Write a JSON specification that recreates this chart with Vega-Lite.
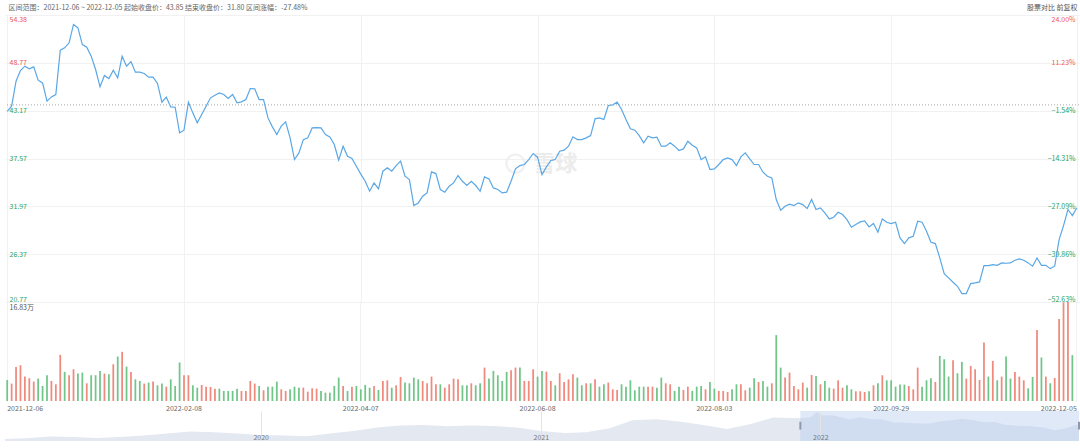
{
  "$schema": "https://vega.github.io/schema/vega-lite/v6.json",
  "description": "Stock close price with volume bars and a range navigator, 2021-12-06 to 2022-12-05",
  "background": "white",
  "padding": {"left": 4, "right": 2, "top": 3, "bottom": 0},
  "spacing": 0,
  "config": {
    "font": "Noto Sans CJK SC",
    "view": {"stroke": null},
    "axis": {"labelFontSize": 7, "titleFontSize": 7, "titleFontWeight": "normal"}
  },
  "resolve": {"scale": {"x": "independent"}},
  "datasets": {
    "p": [
      {"d":"2021-12-06","c":43.1,"v":3.58,"u":0},
      {"d":"2021-12-07","c":43.7,"v":2.96,"u":1},
      {"d":"2021-12-08","c":46.63,"v":5.8,"u":1},
      {"d":"2021-12-09","c":47.88,"v":6.08,"u":1},
      {"d":"2021-12-10","c":48.39,"v":4.15,"u":1},
      {"d":"2021-12-13","c":48.07,"v":3.87,"u":1},
      {"d":"2021-12-14","c":48.31,"v":3.3,"u":1},
      {"d":"2021-12-15","c":46.75,"v":3.81,"u":0},
      {"d":"2021-12-16","c":46.43,"v":2.56,"u":0},
      {"d":"2021-12-17","c":44.29,"v":4.38,"u":0},
      {"d":"2021-12-20","c":44.79,"v":3.41,"u":1},
      {"d":"2021-12-21","c":45.07,"v":2.84,"u":1},
      {"d":"2021-12-22","c":50.26,"v":7.84,"u":1},
      {"d":"2021-12-23","c":50.53,"v":4.95,"u":0},
      {"d":"2021-12-24","c":51.12,"v":4.38,"u":1},
      {"d":"2021-12-27","c":53.27,"v":5.4,"u":1},
      {"d":"2021-12-28","c":52.88,"v":4.66,"u":0},
      {"d":"2021-12-29","c":50.92,"v":4.83,"u":0},
      {"d":"2021-12-30","c":50.61,"v":3.01,"u":1},
      {"d":"2021-12-31","c":49.56,"v":4.38,"u":0},
      {"d":"2022-01-04","c":48.0,"v":4.38,"u":0},
      {"d":"2022-01-05","c":45.97,"v":5.12,"u":0},
      {"d":"2022-01-06","c":47.29,"v":4.66,"u":1},
      {"d":"2022-01-07","c":46.94,"v":4.55,"u":0},
      {"d":"2022-01-10","c":47.92,"v":6.25,"u":1},
      {"d":"2022-01-11","c":47.02,"v":7.56,"u":0},
      {"d":"2022-01-12","c":49.56,"v":8.36,"u":1},
      {"d":"2022-01-13","c":48.39,"v":5.85,"u":0},
      {"d":"2022-01-14","c":48.93,"v":4.95,"u":1},
      {"d":"2022-01-17","c":47.68,"v":3.69,"u":0},
      {"d":"2022-01-18","c":47.68,"v":3.41,"u":0},
      {"d":"2022-01-19","c":47.53,"v":2.96,"u":1},
      {"d":"2022-01-20","c":47.1,"v":3.13,"u":0},
      {"d":"2022-01-21","c":47.1,"v":3.3,"u":1},
      {"d":"2022-01-24","c":46.36,"v":2.67,"u":0},
      {"d":"2022-01-25","c":44.17,"v":2.96,"u":0},
      {"d":"2022-01-26","c":44.76,"v":2.44,"u":1},
      {"d":"2022-01-27","c":43.62,"v":3.69,"u":0},
      {"d":"2022-01-28","c":43.58,"v":2.56,"u":0},
      {"d":"2022-02-07","c":40.58,"v":6.54,"u":0},
      {"d":"2022-02-08","c":40.89,"v":4.38,"u":1},
      {"d":"2022-02-09","c":44.17,"v":4.38,"u":1},
      {"d":"2022-02-10","c":42.92,"v":2.67,"u":0},
      {"d":"2022-02-11","c":41.75,"v":2.27,"u":0},
      {"d":"2022-02-14","c":42.72,"v":2.73,"u":1},
      {"d":"2022-02-15","c":43.7,"v":2.44,"u":1},
      {"d":"2022-02-16","c":44.68,"v":2.39,"u":1},
      {"d":"2022-02-17","c":44.99,"v":2.1,"u":1},
      {"d":"2022-02-18","c":45.26,"v":2.1,"u":0},
      {"d":"2022-02-21","c":45.07,"v":1.71,"u":0},
      {"d":"2022-02-22","c":44.6,"v":1.71,"u":0},
      {"d":"2022-02-23","c":45.07,"v":1.71,"u":0},
      {"d":"2022-02-24","c":44.09,"v":2.1,"u":0},
      {"d":"2022-02-25","c":44.21,"v":1.71,"u":1},
      {"d":"2022-02-28","c":44.48,"v":1.71,"u":1},
      {"d":"2022-03-01","c":45.77,"v":3.41,"u":1},
      {"d":"2022-03-02","c":45.73,"v":2.96,"u":1},
      {"d":"2022-03-03","c":44.48,"v":2.56,"u":0},
      {"d":"2022-03-04","c":44.48,"v":1.82,"u":1},
      {"d":"2022-03-07","c":42.33,"v":2.44,"u":0},
      {"d":"2022-03-08","c":41.28,"v":2.44,"u":0},
      {"d":"2022-03-09","c":40.38,"v":3.3,"u":0},
      {"d":"2022-03-10","c":41.36,"v":1.99,"u":1},
      {"d":"2022-03-11","c":41.86,"v":1.71,"u":1},
      {"d":"2022-03-14","c":39.99,"v":1.99,"u":0},
      {"d":"2022-03-15","c":37.45,"v":2.44,"u":0},
      {"d":"2022-03-16","c":38.23,"v":2.27,"u":0},
      {"d":"2022-03-17","c":39.79,"v":2.27,"u":1},
      {"d":"2022-03-18","c":39.99,"v":1.59,"u":1},
      {"d":"2022-03-21","c":41.16,"v":2.16,"u":1},
      {"d":"2022-03-22","c":41.2,"v":2.1,"u":1},
      {"d":"2022-03-23","c":41.16,"v":1.71,"u":0},
      {"d":"2022-03-24","c":40.38,"v":1.42,"u":0},
      {"d":"2022-03-25","c":40.11,"v":1.42,"u":0},
      {"d":"2022-03-28","c":39.21,"v":2.56,"u":0},
      {"d":"2022-03-29","c":37.37,"v":3.98,"u":0},
      {"d":"2022-03-30","c":39.01,"v":2.56,"u":1},
      {"d":"2022-03-31","c":37.84,"v":1.71,"u":0},
      {"d":"2022-04-01","c":37.57,"v":2.44,"u":1},
      {"d":"2022-04-06","c":36.67,"v":2.56,"u":0},
      {"d":"2022-04-07","c":35.75,"v":1.99,"u":0},
      {"d":"2022-04-08","c":34.91,"v":2.73,"u":0},
      {"d":"2022-04-11","c":33.74,"v":2.27,"u":0},
      {"d":"2022-04-12","c":34.72,"v":2.56,"u":1},
      {"d":"2022-04-13","c":34.02,"v":1.88,"u":0},
      {"d":"2022-04-14","c":36.09,"v":3.41,"u":1},
      {"d":"2022-04-15","c":36.48,"v":3.52,"u":1},
      {"d":"2022-04-18","c":36.09,"v":2.27,"u":0},
      {"d":"2022-04-19","c":36.75,"v":2.67,"u":1},
      {"d":"2022-04-20","c":37.26,"v":4.09,"u":1},
      {"d":"2022-04-21","c":35.5,"v":3.13,"u":0},
      {"d":"2022-04-22","c":35.11,"v":3.01,"u":0},
      {"d":"2022-04-25","c":32.06,"v":3.98,"u":0},
      {"d":"2022-04-26","c":32.37,"v":3.69,"u":0},
      {"d":"2022-04-27","c":33.16,"v":3.41,"u":1},
      {"d":"2022-04-28","c":33.55,"v":3.01,"u":1},
      {"d":"2022-04-29","c":36.01,"v":4.15,"u":1},
      {"d":"2022-05-05","c":35.81,"v":2.84,"u":1},
      {"d":"2022-05-06","c":33.94,"v":2.84,"u":0},
      {"d":"2022-05-09","c":33.63,"v":2.27,"u":1},
      {"d":"2022-05-10","c":34.33,"v":2.84,"u":1},
      {"d":"2022-05-11","c":34.72,"v":3.81,"u":1},
      {"d":"2022-05-12","c":35.58,"v":3.69,"u":1},
      {"d":"2022-05-13","c":34.91,"v":2.67,"u":0},
      {"d":"2022-05-16","c":34.41,"v":2.67,"u":0},
      {"d":"2022-05-17","c":34.91,"v":3.01,"u":1},
      {"d":"2022-05-18","c":34.41,"v":2.67,"u":0},
      {"d":"2022-05-19","c":33.74,"v":3.01,"u":0},
      {"d":"2022-05-20","c":35.42,"v":5.68,"u":1},
      {"d":"2022-05-23","c":35.19,"v":3.81,"u":0},
      {"d":"2022-05-24","c":34.13,"v":5.12,"u":0},
      {"d":"2022-05-25","c":33.94,"v":4.38,"u":0},
      {"d":"2022-05-26","c":33.55,"v":3.41,"u":0},
      {"d":"2022-05-27","c":33.63,"v":4.95,"u":0},
      {"d":"2022-05-30","c":34.91,"v":5.23,"u":1},
      {"d":"2022-05-31","c":36.36,"v":5.68,"u":1},
      {"d":"2022-06-01","c":36.75,"v":5.68,"u":0},
      {"d":"2022-06-02","c":36.87,"v":3.41,"u":1},
      {"d":"2022-06-06","c":37.45,"v":3.41,"u":1},
      {"d":"2022-06-07","c":38.16,"v":5.4,"u":1},
      {"d":"2022-06-08","c":37.73,"v":4.15,"u":0},
      {"d":"2022-06-09","c":35.69,"v":5.12,"u":0},
      {"d":"2022-06-10","c":36.59,"v":5.0,"u":1},
      {"d":"2022-06-13","c":37.34,"v":3.41,"u":1},
      {"d":"2022-06-14","c":37.45,"v":2.67,"u":0},
      {"d":"2022-06-15","c":38.43,"v":4.72,"u":1},
      {"d":"2022-06-16","c":38.55,"v":3.24,"u":1},
      {"d":"2022-06-17","c":39.02,"v":3.69,"u":1},
      {"d":"2022-06-20","c":40.11,"v":4.55,"u":1},
      {"d":"2022-06-21","c":39.79,"v":3.98,"u":0},
      {"d":"2022-06-22","c":39.79,"v":2.67,"u":0},
      {"d":"2022-06-23","c":39.99,"v":3.01,"u":1},
      {"d":"2022-06-24","c":40.26,"v":3.01,"u":0},
      {"d":"2022-06-27","c":42.22,"v":3.69,"u":1},
      {"d":"2022-06-28","c":42.33,"v":2.44,"u":0},
      {"d":"2022-06-29","c":42.14,"v":2.84,"u":0},
      {"d":"2022-06-30","c":43.78,"v":3.13,"u":1},
      {"d":"2022-07-01","c":43.86,"v":1.99,"u":1},
      {"d":"2022-07-04","c":44.17,"v":1.88,"u":1},
      {"d":"2022-07-05","c":43.31,"v":2.84,"u":0},
      {"d":"2022-07-06","c":42.14,"v":2.44,"u":0},
      {"d":"2022-07-07","c":41.05,"v":3.52,"u":0},
      {"d":"2022-07-08","c":40.89,"v":1.82,"u":0},
      {"d":"2022-07-11","c":40.26,"v":2.44,"u":0},
      {"d":"2022-07-12","c":39.41,"v":2.44,"u":0},
      {"d":"2022-07-13","c":40.19,"v":2.44,"u":1},
      {"d":"2022-07-14","c":39.99,"v":2.44,"u":1},
      {"d":"2022-07-15","c":40.07,"v":2.27,"u":0},
      {"d":"2022-07-18","c":39.02,"v":3.98,"u":0},
      {"d":"2022-07-19","c":39.02,"v":3.01,"u":1},
      {"d":"2022-07-20","c":39.41,"v":2.84,"u":1},
      {"d":"2022-07-21","c":39.02,"v":1.71,"u":0},
      {"d":"2022-07-22","c":38.51,"v":2.44,"u":0},
      {"d":"2022-07-25","c":38.7,"v":1.88,"u":1},
      {"d":"2022-07-26","c":39.6,"v":2.44,"u":1},
      {"d":"2022-07-27","c":39.13,"v":1.71,"u":0},
      {"d":"2022-07-28","c":38.82,"v":2.44,"u":0},
      {"d":"2022-07-29","c":37.45,"v":2.56,"u":0},
      {"d":"2022-08-01","c":37.77,"v":1.99,"u":1},
      {"d":"2022-08-02","c":36.28,"v":3.24,"u":0},
      {"d":"2022-08-03","c":36.36,"v":2.1,"u":0},
      {"d":"2022-08-04","c":36.87,"v":1.71,"u":1},
      {"d":"2022-08-05","c":37.45,"v":1.71,"u":1},
      {"d":"2022-08-08","c":37.65,"v":1.53,"u":1},
      {"d":"2022-08-09","c":37.45,"v":1.99,"u":0},
      {"d":"2022-08-10","c":36.75,"v":2.84,"u":0},
      {"d":"2022-08-11","c":37.76,"v":2.84,"u":1},
      {"d":"2022-08-12","c":38.23,"v":1.82,"u":1},
      {"d":"2022-08-15","c":37.53,"v":2.27,"u":0},
      {"d":"2022-08-16","c":36.87,"v":3.87,"u":0},
      {"d":"2022-08-17","c":36.87,"v":3.24,"u":1},
      {"d":"2022-08-18","c":35.97,"v":3.41,"u":0},
      {"d":"2022-08-19","c":35.5,"v":2.44,"u":0},
      {"d":"2022-08-22","c":35.3,"v":3.01,"u":1},
      {"d":"2022-08-23","c":32.77,"v":11.2,"u":0},
      {"d":"2022-08-24","c":31.52,"v":5.68,"u":0},
      {"d":"2022-08-25","c":31.99,"v":3.98,"u":1},
      {"d":"2022-08-26","c":32.22,"v":4.83,"u":1},
      {"d":"2022-08-29","c":32.06,"v":2.56,"u":1},
      {"d":"2022-08-30","c":32.38,"v":1.99,"u":1},
      {"d":"2022-08-31","c":32.18,"v":3.13,"u":1},
      {"d":"2022-09-01","c":31.71,"v":2.27,"u":0},
      {"d":"2022-09-02","c":32.77,"v":4.43,"u":1},
      {"d":"2022-09-05","c":31.6,"v":4.26,"u":0},
      {"d":"2022-09-06","c":31.79,"v":2.84,"u":1},
      {"d":"2022-09-07","c":31.2,"v":3.41,"u":0},
      {"d":"2022-09-08","c":30.5,"v":2.27,"u":0},
      {"d":"2022-09-09","c":30.7,"v":2.1,"u":1},
      {"d":"2022-09-13","c":31.28,"v":3.52,"u":1},
      {"d":"2022-09-14","c":31.01,"v":2.27,"u":1},
      {"d":"2022-09-15","c":30.42,"v":2.67,"u":0},
      {"d":"2022-09-16","c":29.53,"v":1.99,"u":0},
      {"d":"2022-09-19","c":29.84,"v":1.65,"u":1},
      {"d":"2022-09-20","c":30.15,"v":1.65,"u":1},
      {"d":"2022-09-21","c":30.27,"v":1.53,"u":1},
      {"d":"2022-09-22","c":29.56,"v":1.65,"u":0},
      {"d":"2022-09-23","c":29.96,"v":2.67,"u":1},
      {"d":"2022-09-26","c":28.94,"v":3.01,"u":0},
      {"d":"2022-09-27","c":30.5,"v":4.38,"u":1},
      {"d":"2022-09-28","c":30.11,"v":3.52,"u":0},
      {"d":"2022-09-29","c":29.96,"v":3.52,"u":0},
      {"d":"2022-09-30","c":30.11,"v":2.44,"u":0},
      {"d":"2022-10-10","c":28.28,"v":2.79,"u":0},
      {"d":"2022-10-11","c":27.61,"v":2.79,"u":0},
      {"d":"2022-10-12","c":28.28,"v":2.56,"u":1},
      {"d":"2022-10-13","c":28.47,"v":1.99,"u":1},
      {"d":"2022-10-14","c":30.23,"v":5.68,"u":1},
      {"d":"2022-10-17","c":30.11,"v":2.44,"u":0},
      {"d":"2022-10-18","c":29.06,"v":3.52,"u":0},
      {"d":"2022-10-19","c":27.77,"v":3.87,"u":0},
      {"d":"2022-10-20","c":27.61,"v":3.24,"u":1},
      {"d":"2022-10-21","c":25.93,"v":7.67,"u":0},
      {"d":"2022-10-24","c":24.1,"v":7.11,"u":0},
      {"d":"2022-10-25","c":23.59,"v":4.15,"u":0},
      {"d":"2022-10-26","c":23.08,"v":6.93,"u":1},
      {"d":"2022-10-27","c":22.61,"v":4.72,"u":0},
      {"d":"2022-10-28","c":21.76,"v":6.65,"u":0},
      {"d":"2022-10-31","c":21.76,"v":3.81,"u":1},
      {"d":"2022-11-01","c":22.93,"v":5.97,"u":1},
      {"d":"2022-11-02","c":23.0,"v":5.4,"u":1},
      {"d":"2022-11-03","c":23.12,"v":3.58,"u":1},
      {"d":"2022-11-04","c":25.04,"v":9.95,"u":1},
      {"d":"2022-11-07","c":25.04,"v":4.15,"u":0},
      {"d":"2022-11-08","c":25.15,"v":6.82,"u":1},
      {"d":"2022-11-09","c":25.07,"v":3.52,"u":0},
      {"d":"2022-11-10","c":25.35,"v":4.15,"u":1},
      {"d":"2022-11-11","c":25.31,"v":7.56,"u":0},
      {"d":"2022-11-14","c":25.35,"v":3.81,"u":0},
      {"d":"2022-11-15","c":25.66,"v":4.95,"u":1},
      {"d":"2022-11-16","c":25.82,"v":4.15,"u":1},
      {"d":"2022-11-17","c":25.66,"v":3.52,"u":1},
      {"d":"2022-11-18","c":25.35,"v":2.16,"u":0},
      {"d":"2022-11-21","c":24.96,"v":4.09,"u":0},
      {"d":"2022-11-22","c":25.93,"v":12.05,"u":1},
      {"d":"2022-11-23","c":25.07,"v":7.39,"u":0},
      {"d":"2022-11-24","c":25.07,"v":4.15,"u":1},
      {"d":"2022-11-25","c":24.68,"v":3.01,"u":0},
      {"d":"2022-11-28","c":24.96,"v":3.92,"u":1},
      {"d":"2022-11-29","c":28.08,"v":13.93,"u":1},
      {"d":"2022-11-30","c":29.72,"v":16.77,"u":1},
      {"d":"2022-12-01","c":31.6,"v":16.83,"u":1},
      {"d":"2022-12-02","c":30.89,"v":7.79,"u":0},
      {"d":"2022-12-05","c":31.8,"v":0,"u":1}
    ],
    "nav": [
      {"t":"2019-02-01","c":8.4},{"t":"2019-03-01","c":9.5},{"t":"2019-04-01","c":12.3},
      {"t":"2019-05-01","c":11.8},{"t":"2019-06-01","c":10.1},{"t":"2019-07-01","c":11.8},
      {"t":"2019-08-01","c":14.0},{"t":"2019-09-01","c":17.3},{"t":"2019-10-01","c":20.7},
      {"t":"2019-11-01","c":19.5},{"t":"2019-12-01","c":17.3},{"t":"2020-01-01","c":15.1},
      {"t":"2020-02-01","c":14.0},{"t":"2020-03-01","c":12.9},{"t":"2020-04-01","c":17.3},
      {"t":"2020-05-01","c":21.8},{"t":"2020-06-01","c":27.4},{"t":"2020-07-01","c":30.7},
      {"t":"2020-08-01","c":31.8},{"t":"2020-09-01","c":29.6},{"t":"2020-10-01","c":30.7},
      {"t":"2020-11-01","c":30.1},{"t":"2020-12-01","c":27.4},{"t":"2021-01-01","c":21.8},
      {"t":"2021-02-01","c":18.4},{"t":"2021-03-01","c":19.5},{"t":"2021-04-01","c":26.2},
      {"t":"2021-05-01","c":39.6},{"t":"2021-06-01","c":41.3},{"t":"2021-07-01","c":37.4},
      {"t":"2021-08-01","c":31.8},{"t":"2021-09-01","c":25.1},{"t":"2021-10-01","c":32.9},
      {"t":"2021-11-01","c":44.1},{"t":"2021-12-06","c":43.1},{"t":"2021-12-20","c":44.79},
      {"t":"2021-12-27","c":53.27},{"t":"2022-01-04","c":48.0},{"t":"2022-01-18","c":47.68},
      {"t":"2022-02-08","c":40.89},{"t":"2022-02-22","c":44.6},{"t":"2022-03-08","c":41.28},
      {"t":"2022-03-22","c":41.2},{"t":"2022-04-07","c":35.75},{"t":"2022-04-21","c":35.5},
      {"t":"2022-05-10","c":34.33},{"t":"2022-05-24","c":34.13},{"t":"2022-06-08","c":37.73},
      {"t":"2022-06-22","c":39.79},{"t":"2022-07-06","c":42.14},{"t":"2022-07-20","c":39.41},
      {"t":"2022-08-03","c":36.36},{"t":"2022-08-17","c":36.87},{"t":"2022-08-31","c":32.18},
      {"t":"2022-09-15","c":30.42},{"t":"2022-09-29","c":29.96},{"t":"2022-10-20","c":27.61},
      {"t":"2022-11-03","c":23.12},{"t":"2022-11-17","c":25.66},{"t":"2022-12-01","c":31.6},
      {"t":"2022-12-05","c":31.8}
    ],
    "sel": [{"s":"2021-12-06","e":"2022-12-05"}]
  },
  "vconcat": [
    {
      "width": 1074,
      "height": 287,
      "layer": [
        {
          "layer": [
            {
              "data": {"values": [{}]},
              "mark": {"type": "point", "shape": "circle", "size": 330, "filled": false, "stroke": "#ececec", "strokeWidth": 2.5},
              "encoding": {
                "x": {"datum": "2022-05-31", "type": "ordinal"},
                "y": {"datum": 36.98, "type": "quantitative"}
              }
            },
            {
              "data": {"values": [{}]},
              "mark": {"type": "text", "text": "雪球", "fontSize": 22, "fontWeight": "bold", "color": "#ececec"},
              "encoding": {
                "x": {"datum": "2022-06-14", "type": "ordinal"},
                "y": {"datum": 36.98, "type": "quantitative"}
              }
            },
            {
              "data": {"name": "p"},
              "mark": {"type": "line", "color": "#5aa7e6", "strokeWidth": 1.2},
              "encoding": {
                "x": {
                  "field": "d", "type": "ordinal",
                  "scale": {"type": "point", "padding": 0.5},
                  "axis": {
                    "values": ["2021-12-06","2022-02-08","2022-04-07","2022-06-08","2022-08-03","2022-09-29","2022-12-05"],
                    "labels": false, "ticks": false, "domain": false,
                    "grid": true, "gridColor": "#f1f1f1", "title": null
                  }
                },
                "y": {
                  "field": "c", "type": "quantitative",
                  "scale": {"domain": [20.77, 54.38], "nice": false, "zero": false},
                  "axis": {
                    "orient": "left",
                    "values": [20.77, 26.37, 31.97, 37.57, 43.17, 48.77, 54.38],
                    "format": ".2f",
                    "labelAlign": "left", "labelPadding": -4, "tickSize": 0, "ticks": false, "domain": false,
                    "labelFlush": true,
                    "labelColor": {"condition": {"test": "datum.value > 43.85", "value": "#ec5b4b"}, "value": "#2ea35a"},
                    "grid": true, "gridColor": "#f1f1f1",
                    "title": "区间范围：2021-12-06 ~ 2022-12-05   起始收盘价：43.85   结束收盘价：31.80   区间涨幅：-27.48%",
                    "titleAngle": 0, "titleAlign": "left", "titleBaseline": "middle",
                    "titleX": 3, "titleY": -8, "titleColor": "#666", "titleLimit": 1000
                  }
                }
              }
            }
          ]
        },
        {
          "data": {"values": [{}]},
          "mark": {"type": "rule", "stroke": "#a8a8a8", "strokeDash": [1, 2], "strokeWidth": 1},
          "encoding": {
            "y": {
              "datum": 0, "type": "quantitative",
              "scale": {"domain": [-52.63, 24.0], "nice": false, "zero": false},
              "axis": {
                "orient": "right",
                "values": [-52.63, -39.86, -27.09, -14.31, -1.54, 11.23, 24.0],
                "labelExpr": "format(datum.value, '.2f') + '%'",
                "labelAlign": "right", "labelPadding": -4, "tickSize": 0, "ticks": false, "domain": false,
                "labelFlush": true, "grid": false,
                "labelColor": {"condition": {"test": "datum.value > 0", "value": "#ec5b4b"}, "value": "#2ea35a"},
                "title": "股票对比  前复权",
                "titleAngle": 0, "titleAlign": "right", "titleBaseline": "middle",
                "titleX": -2, "titleY": -8, "titleColor": "#555", "titleLimit": 1000
              }
            }
          }
        }
      ],
      "resolve": {"scale": {"y": "independent"}}
    },
    {
      "width": 1074,
      "height": 99,
      "data": {"name": "p"},
      "mark": {"type": "bar", "width": {"band": 0.4}},
      "encoding": {
        "x": {
          "field": "d", "type": "ordinal",
          "scale": {"type": "band", "paddingInner": 0, "paddingOuter": 0},
          "axis": {
            "values": ["2021-12-06","2022-02-08","2022-04-07","2022-06-08","2022-08-03","2022-09-29","2022-12-05"],
            "bandPosition": 0.5, "labelAngle": 0,
            "labelAlign": {"condition": [{"test": "datum.value == '2021-12-06'", "value": "left"}, {"test": "datum.value == '2022-12-05'", "value": "right"}], "value": "center"},
            "labelColor": "#666", "labelPadding": 3, "ticks": false, "domain": false,
            "grid": true, "gridColor": "#f1f1f1", "title": null
          }
        },
        "y": {
          "field": "v", "type": "quantitative",
          "scale": {"domain": [0, 16.83], "nice": false},
          "axis": {
            "values": [16.83], "labelExpr": "'16.83万'",
            "labelAlign": "left", "labelBaseline": "top", "labelPadding": -4, "labelOffset": 1, "tickSize": 0, "ticks": false, "domain": false,
            "labelColor": "#555", "grid": true, "gridColor": "#f1f1f1", "title": null
          }
        },
        "color": {
          "field": "u", "type": "nominal",
          "scale": {"domain": [1, 0], "range": ["#f08a7d", "#72c589"]},
          "legend": null
        }
      }
    },
    {
      "width": 1074,
      "height": 30,
      "layer": [
        {
          "data": {"name": "nav"},
          "mark": {"type": "area", "color": "#e3e8f1"},
          "encoding": {
            "x": {
              "field": "t", "type": "temporal",
              "scale": {"nice": false},
              "axis": {
                "values": [{"year": 2020}, {"year": 2021}, {"year": 2022}],
                "format": "%Y", "labelColor": "#777", "labelPadding": -1, "labelBaseline": "bottom",
                "ticks": false, "domain": true, "domainColor": "#e4e4e4",
                "grid": true, "gridColor": "#e4e4e4", "title": null, "zindex": 1
              }
            },
            "y": {"field": "c", "type": "quantitative", "scale": {"domain": [5, 55], "nice": false, "zero": false}, "axis": null},
            "y2": {"datum": 5}
          }
        },
        {
          "data": {"name": "sel"},
          "mark": {"type": "rect", "color": "#b9cff0", "opacity": 0.45},
          "encoding": {
            "x": {"field": "s", "type": "temporal"},
            "x2": {"field": "e"}
          }
        },
        {
          "data": {"name": "sel"},
          "mark": {"type": "rule", "color": "#8f99aa", "strokeWidth": 2},
          "encoding": {
            "x": {"field": "s", "type": "temporal"},
            "y": {"datum": 24},
            "y2": {"datum": 37}
          }
        },
        {
          "data": {"name": "sel"},
          "mark": {"type": "rule", "color": "#8f99aa", "strokeWidth": 2},
          "encoding": {
            "x": {"field": "e", "type": "temporal"},
            "y": {"datum": 24},
            "y2": {"datum": 37}
          }
        }
      ]
    }
  ]
}
